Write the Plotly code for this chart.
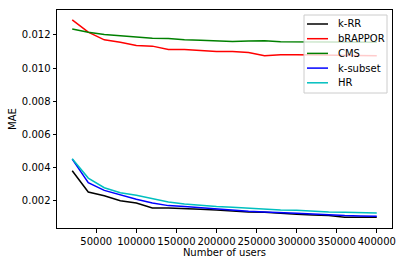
import plotly.graph_objects as go

users = [20000, 40000, 60000, 80000, 100000, 120000, 140000, 160000, 180000, 200000,
         220000, 240000, 260000, 280000, 300000, 320000, 340000, 360000, 380000, 400000]

k_rr = [0.0038, 0.00252, 0.0023, 0.0020, 0.00186, 0.00156, 0.00156, 0.00154, 0.00148, 0.00144,
        0.00136, 0.00132, 0.0013, 0.00122, 0.00118, 0.00114, 0.0011, 0.0010, 0.0010, 0.0010]
brappor = [0.0129, 0.01216, 0.0117, 0.01156, 0.01136, 0.01132, 0.01112, 0.01112, 0.01106, 0.0110,
           0.0110, 0.01094, 0.01074, 0.0108, 0.0108, 0.01078, 0.01078, 0.01076, 0.01076, 0.01074]
cms = [0.01236, 0.01216, 0.01202, 0.01194, 0.01184, 0.0118, 0.01178, 0.0117, 0.01168, 0.01164,
       0.0116, 0.01163, 0.01164, 0.01158, 0.01158, 0.01156, 0.01156, 0.01156, 0.01156, 0.01156]
k_subset = [0.0045, 0.00308, 0.00262, 0.00234, 0.00208, 0.00186, 0.0017, 0.00164, 0.00156, 0.00152,
            0.00142, 0.00136, 0.00132, 0.00126, 0.00124, 0.0012, 0.00114, 0.0011, 0.00108, 0.00106]
hr = [0.00453, 0.00336, 0.00278, 0.00248, 0.00232, 0.00214, 0.00192, 0.0018, 0.0017, 0.00164,
      0.0016, 0.00154, 0.0015, 0.00144, 0.00142, 0.00136, 0.00132, 0.0013, 0.00128, 0.00126]

names = ["k-RR", "bRAPPOR", "CMS", "k-subset", "HR"]
colors = ["#000000", "#ff0000", "#008000", "#0000ff", "#00bfbf"]
values = [k_rr, brappor, cms, k_subset, hr]

x_ticks = [50000, 100000, 150000, 200000, 250000, 300000, 350000, 400000]
y_ticks = [0.002, 0.004, 0.006, 0.008, 0.010, 0.012]

W, H = 402, 266
ML, MR, MT, MB = 57, 10, 10, 38
PW, PH = W - ML - MR, H - MT - MB


def px(xpix):
    return (xpix - ML) / PW


def py(ypix):
    return (H - MB - ypix) / PH


fig = go.Figure()
for name, vals, col in zip(names, values, colors):
    fig.add_trace(go.Scatter(x=users, y=vals, name=name, mode="lines",
                             line=dict(color=col, width=1.5), showlegend=False))

font = dict(family="DejaVu Sans", size=10, color="#000000")

# custom matplotlib-style legend (upper right)
shapes = [dict(type="rect", xref="paper", yref="paper",
               x0=px(304), x1=px(387), y0=py(93), y1=py(15),
               fillcolor="rgba(255,255,255,0.8)", line=dict(color="#cccccc", width=1),
               layer="above")]
annotations = []
for i, (name, col) in enumerate(zip(names, colors)):
    yc = 24 + i * 14.7
    shapes.append(dict(type="line", xref="paper", yref="paper",
                       x0=px(307), x1=px(328), y0=py(yc), y1=py(yc),
                       line=dict(color=col, width=1.5), layer="above"))
    annotations.append(dict(xref="paper", yref="paper", x=px(335.5), y=py(yc),
                            xanchor="left", yanchor="middle", text=name,
                            showarrow=False, font=font))

fig.update_layout(
    width=W, height=H,
    margin=dict(l=ML, r=MR, t=MT, b=MB, autoexpand=False),
    paper_bgcolor="white", plot_bgcolor="white",
    font=font,
    showlegend=False,
    shapes=shapes, annotations=annotations,
)
fig.update_xaxes(range=[1000, 419000], tickvals=x_ticks, ticktext=[str(v) for v in x_ticks],
                 tickangle=0, automargin=False,
                 showgrid=False, zeroline=False, showline=True, linecolor="#000000", linewidth=1,
                 mirror=True, ticks="outside", ticklen=3.5, tickcolor="#000000",
                 title=dict(text="Number of users", font=font, standoff=3))
fig.update_yaxes(range=[0.00035, 0.0135], tickvals=y_ticks, ticktext=["%.3f" % v for v in y_ticks],
                 automargin=False,
                 showgrid=False, zeroline=False, showline=True, linecolor="#000000", linewidth=1,
                 mirror=True, ticks="outside", ticklen=3.5, tickcolor="#000000",
                 title=dict(text="MAE", font=font, standoff=3))

fig.write_html("out.html", config={"displayModeBar": False},
               post_script="document.body.style.margin='0';document.body.style.overflow='hidden';")
